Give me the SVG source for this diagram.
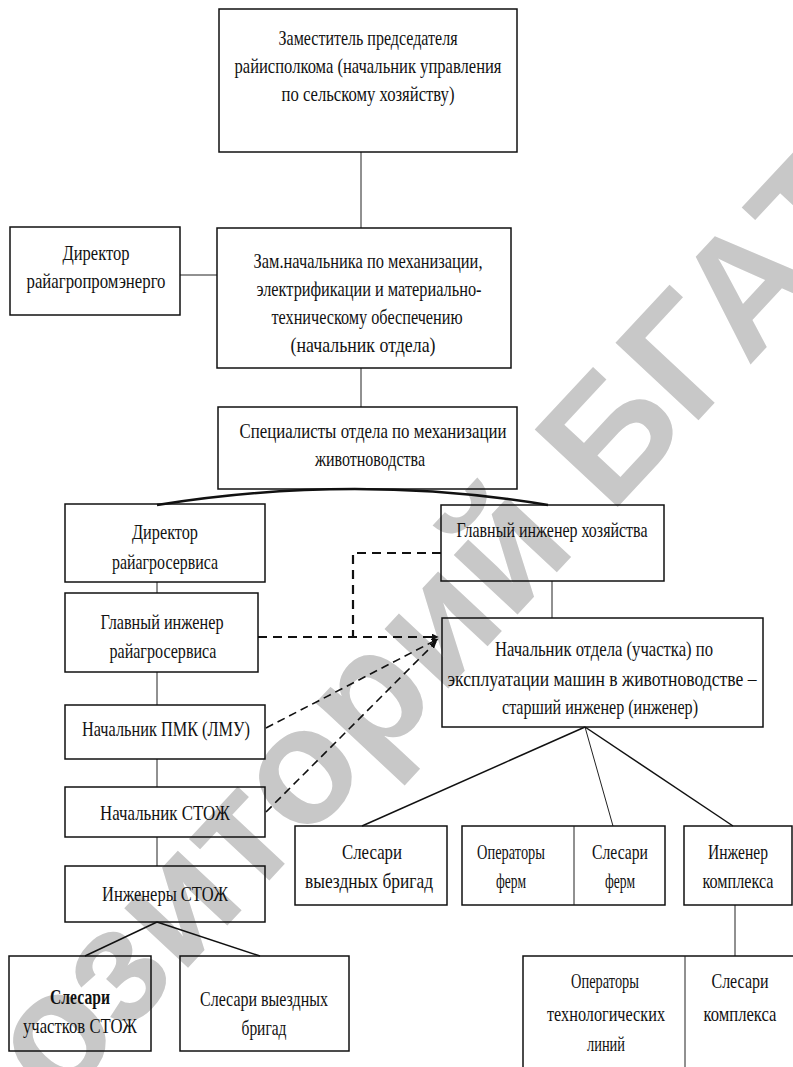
<svg xmlns="http://www.w3.org/2000/svg" width="793" height="1067" viewBox="0 0 793 1067">
<defs>
<style>
.box{fill:none;stroke:#111;stroke-width:1.5}
.t{font-family:"Liberation Serif","Times New Roman",serif;font-size:21px;fill:#111;text-anchor:middle}
.b{font-weight:bold}
.ln{fill:none;stroke:#222;stroke-width:1}
.lt{fill:none;stroke:#111;stroke-width:1.5}
.dash{fill:none;stroke:#111;stroke-width:1.6;stroke-dasharray:8 5}
.dash2{fill:none;stroke:#111;stroke-width:2.2;stroke-dasharray:9 6}
.wm{font-family:"Liberation Sans",Arial,sans-serif;font-weight:bold;font-size:165px;fill:#c8c8c8;text-anchor:middle}
</style>
<marker id="arr" viewBox="0 0 10 10" refX="9" refY="5" markerWidth="7" markerHeight="7" orient="auto" markerUnits="userSpaceOnUse">
<path d="M0,0 L10,5 L0,10 z" fill="#111"/>
</marker>
</defs>
<rect width="793" height="1067" fill="#fff"/>
<text class="wm" transform="translate(368,694) rotate(-47)" x="0" y="55">Репозиторий БГАТУ</text>

<g id="connectors">
<line class="ln" x1="361" y1="152" x2="361" y2="228"/>
<line class="ln" x1="361" y1="368" x2="361" y2="407"/>
<line class="ln" x1="180" y1="275" x2="217" y2="275"/>
<path d="M157,505 Q357,473 548,505" fill="none" stroke="#111" stroke-width="2.6"/>
<line class="ln" x1="157" y1="582" x2="157" y2="593"/>
<line class="ln" x1="157" y1="672" x2="157" y2="705"/>
<line class="ln" x1="157" y1="759" x2="157" y2="787"/>
<line class="ln" x1="157" y1="837" x2="157" y2="866"/>
<line class="lt" x1="157" y1="922" x2="85" y2="956"/>
<line class="lt" x1="157" y1="922" x2="260" y2="956"/>
<line class="ln" x1="552" y1="581" x2="552" y2="618"/>
<line class="lt" x1="585" y1="727" x2="362" y2="826"/>
<line class="ln" x1="585" y1="727" x2="613" y2="826"/>
<line class="lt" x1="585" y1="727" x2="733" y2="826"/>
<line class="ln" x1="735" y1="905" x2="735" y2="956"/>
<path class="dash2" d="M441,553 H353 V637"/>
<path class="dash2" d="M258,637 H438" marker-end="url(#arr)"/>
<path class="dash" d="M266,728 L438,639" marker-end="url(#arr)"/>
<path class="dash" d="M266,812 L436,642" marker-end="url(#arr)"/>
</g>

<g id="n-zam-pred">
<rect class="box" x="219" y="9" width="298" height="143"/>
<text class="t" x="368" y="45" textLength="179" lengthAdjust="spacingAndGlyphs">Заместитель председателя</text>
<text class="t" x="368" y="73" textLength="267" lengthAdjust="spacingAndGlyphs">райисполкома (начальник управления</text>
<text class="t" x="368" y="101" textLength="173" lengthAdjust="spacingAndGlyphs">по сельскому хозяйству)</text>
</g>

<g id="n-dir-energo">
<rect class="box" x="10" y="227" width="170" height="88"/>
<text class="t" x="96" y="260" textLength="67" lengthAdjust="spacingAndGlyphs">Директор</text>
<text class="t" x="96" y="288" textLength="139" lengthAdjust="spacingAndGlyphs">райагропромэнерго</text>
</g>

<g id="n-zam-nach">
<rect class="box" x="217" y="228" width="294" height="140"/>
<text class="t" x="368" y="268" textLength="229" lengthAdjust="spacingAndGlyphs">Зам.начальника по механизации,</text>
<text class="t" x="369" y="296" textLength="225" lengthAdjust="spacingAndGlyphs">электрификации и материально-</text>
<text class="t" x="367" y="324" textLength="191" lengthAdjust="spacingAndGlyphs">техническому обеспечению</text>
<text class="t" x="363" y="352" textLength="145" lengthAdjust="spacingAndGlyphs">(начальник отдела)</text>
</g>

<g id="n-spec">
<rect class="box" x="218" y="407" width="299" height="82"/>
<text class="t" x="373" y="438" textLength="267" lengthAdjust="spacingAndGlyphs">Специалисты отдела по механизации</text>
<text class="t" x="370" y="466" textLength="110" lengthAdjust="spacingAndGlyphs">животноводства</text>
</g>

<g id="n-dir-serv">
<rect class="box" x="65" y="504" width="200" height="78"/>
<text class="t" x="165" y="539" textLength="66" lengthAdjust="spacingAndGlyphs">Директор</text>
<text class="t" x="165" y="569" textLength="106" lengthAdjust="spacingAndGlyphs">райагросервиса</text>
</g>

<g id="n-gl-ing-serv">
<rect class="box" x="65" y="593" width="193" height="79"/>
<text class="t" x="162" y="629" textLength="123" lengthAdjust="spacingAndGlyphs">Главный инженер</text>
<text class="t" x="163" y="658" textLength="107" lengthAdjust="spacingAndGlyphs">райагросервиса</text>
</g>

<g id="n-gl-ing-hoz">
<rect class="box" x="441" y="505" width="223" height="76"/>
<text class="t" x="552" y="537" textLength="191" lengthAdjust="spacingAndGlyphs">Главный инженер хозяйства</text>
</g>

<g id="n-nach-otd">
<rect class="box" x="442" y="618" width="321" height="109"/>
<text class="t" x="604" y="656" textLength="218" lengthAdjust="spacingAndGlyphs">Начальник отдела (участка) по</text>
<text class="t" x="602" y="686" textLength="309" lengthAdjust="spacingAndGlyphs">эксплуатации машин в животноводстве –</text>
<text class="t" x="600" y="714" textLength="196" lengthAdjust="spacingAndGlyphs">старший инженер (инженер)</text>
</g>

<g id="n-pmk">
<rect class="box" x="65" y="705" width="200" height="54"/>
<text class="t" x="166" y="736" textLength="168" lengthAdjust="spacingAndGlyphs">Начальник ПМК (ЛМУ)</text>
</g>

<g id="n-nach-stozh">
<rect class="box" x="65" y="787" width="200" height="50"/>
<text class="t" x="165" y="820" textLength="130" lengthAdjust="spacingAndGlyphs">Начальник СТОЖ</text>
</g>

<g id="n-ing-stozh">
<rect class="box" x="65" y="866" width="200" height="56"/>
<text class="t" x="165" y="901" textLength="126" lengthAdjust="spacingAndGlyphs">Инженеры СТОЖ</text>
</g>

<g id="n-sles-uch">
<rect class="box" x="9" y="956" width="142" height="95"/>
<text class="t b" x="80" y="1004" textLength="60" lengthAdjust="spacingAndGlyphs">Слесари</text>
<text class="t" x="80" y="1033" textLength="114" lengthAdjust="spacingAndGlyphs">участков СТОЖ</text>
</g>

<g id="n-sles-vyezd-l">
<rect class="box" x="180" y="956" width="169" height="95"/>
<text class="t" x="264" y="1006" textLength="128" lengthAdjust="spacingAndGlyphs">Слесари выездных</text>
<text class="t" x="264" y="1035" textLength="45" lengthAdjust="spacingAndGlyphs">бригад</text>
</g>

<g id="n-sles-vyezd-r">
<rect class="box" x="295" y="826" width="152" height="79"/>
<text class="t" x="372" y="859" textLength="60" lengthAdjust="spacingAndGlyphs">Слесари</text>
<text class="t" x="369" y="888" textLength="128" lengthAdjust="spacingAndGlyphs">выездных бригад</text>
</g>

<g id="n-ferm">
<rect class="box" x="462" y="826" width="203" height="79"/>
<line class="ln" x1="574" y1="826" x2="574" y2="905"/>
<text class="t" x="511" y="859" textLength="68" lengthAdjust="spacingAndGlyphs">Операторы</text>
<text class="t" x="511" y="888" textLength="30" lengthAdjust="spacingAndGlyphs">ферм</text>
<text class="t" x="620" y="859" textLength="56" lengthAdjust="spacingAndGlyphs">Слесари</text>
<text class="t" x="620" y="888" textLength="30" lengthAdjust="spacingAndGlyphs">ферм</text>
</g>

<g id="n-ing-kompl">
<rect class="box" x="684" y="826" width="108" height="79"/>
<text class="t" x="738" y="859" textLength="60" lengthAdjust="spacingAndGlyphs">Инженер</text>
<text class="t" x="738" y="888" textLength="71" lengthAdjust="spacingAndGlyphs">комплекса</text>
</g>

<g id="n-oper-lin">
<path class="box" d="M523,1067 V956 H793"/>
<line class="ln" x1="685" y1="956" x2="685" y2="1067"/>
<text class="t" x="605" y="988" textLength="68" lengthAdjust="spacingAndGlyphs">Операторы</text>
<text class="t" x="606" y="1021" textLength="118" lengthAdjust="spacingAndGlyphs">технологических</text>
<text class="t" x="606" y="1051" textLength="38" lengthAdjust="spacingAndGlyphs">линий</text>
<text class="t" x="740" y="988" textLength="57" lengthAdjust="spacingAndGlyphs">Слесари</text>
<text class="t" x="740" y="1021" textLength="73" lengthAdjust="spacingAndGlyphs">комплекса</text>
</g>
</svg>
